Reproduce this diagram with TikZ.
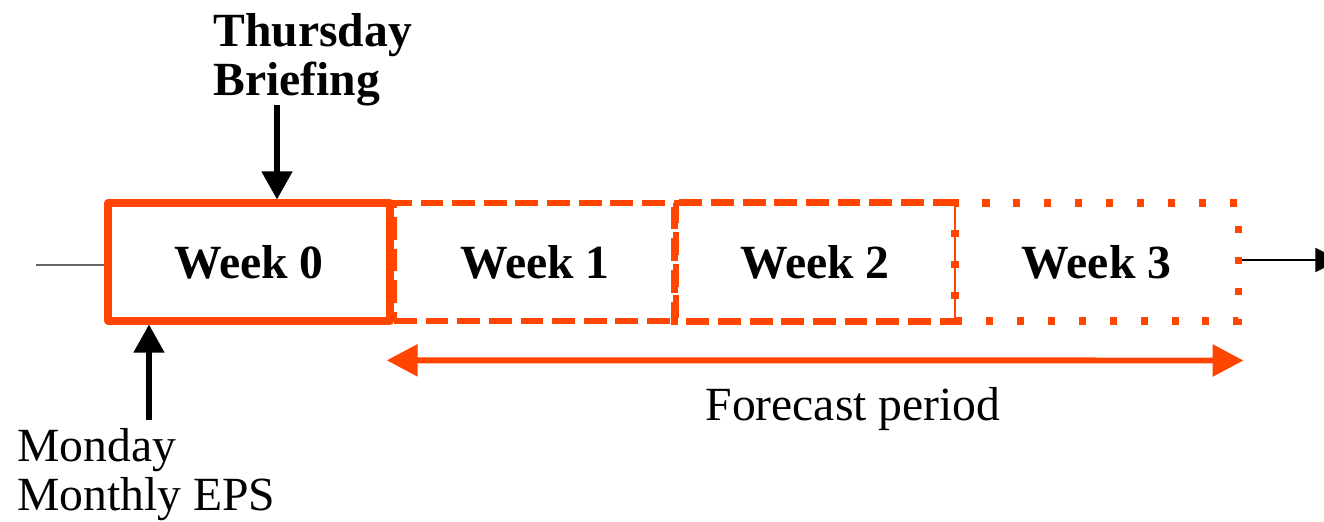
\documentclass[tikz,border=0pt]{standalone}
\usepackage{fontspec}
\setmainfont{Liberation Serif}
\usepackage{xcolor}
\usepackage{tikz}
\usetikzlibrary{calc}
\usetikzlibrary{arrows.meta}
\definecolor{fcorange}{HTML}{FF4500}

\begin{document}
\begin{tikzpicture}
    [
        x=0.2mm, y=-0.2mm,
        every node/.style={font=\fontsize{27.1}{27.9}\selectfont},
        week/.style={minimum height=23.6mm, inner sep=0pt, font=\fontsize{27.1}{27.9}\selectfont\bfseries},
        solidweek/.style={draw=fcorange, line width=4pt, line join=round},
        dashweek/.style={draw=fcorange, line width=3.8pt, dash pattern=on 13pt off 5pt},
        dotweek/.style={draw=fcorange, line width=4pt, dash pattern=on 4pt off 13.6pt},
        pointer/.style={line width=3pt, -{Triangle[length=16pt, width=17pt]}},
        spanarrow/.style={draw=fcorange, line width=3.4pt, {Triangle[length=17.6pt, width=17.6pt]}-{Triangle[length=17.6pt, width=17.6pt]}}
    ]
        %FRAME
        \path[use as bounding box, clip] (0,0) rectangle (1324,522);

        %WEEKS
        \node[week, dashweek, minimum width=56.4mm] (w1) at (535,262) {Week 1};
        \node[week, minimum width=56mm] (w2) at (815,262) {Week 2};
        \node[week, dotweek, minimum width=56.6mm] (w3) at (1096.5,262) {Week 3};
        \node[week, solidweek, minimum width=56.4mm] (w0) at (249,262) {Week 0};
        \draw[dashweek] (w2.north east) -- (w2.north west) -- (w2.south west) -- (w2.south east);
        \draw[fcorange, line width=1.1pt] (w2.north east) -- (w2.south east);

        %TIMELINE
        \coordinate (lead) at (36,265);
        \coordinate (out) at (1340,260);
        \draw[gray!80!black, line width=0.8pt] (lead) -- (lead -| w0.west);
        \draw[line width=1pt, -{Triangle[length=14pt, width=13.7pt]}] (w3.east |- out) -- (out);

        %LABELS
        \node[font=\fontsize{27.1}{27.9}\selectfont\bfseries, align=left, anchor=north west, inner sep=0pt] (thu) at (213,13) {Thursday\\Briefing};
        \node[align=left, anchor=north west, inner sep=0pt] (mon) at (17,428) {Monday\\Monthly EPS};
        \node[anchor=base, inner sep=0pt] (fc) at (853,420) {Forecast period};

        %ARROWS
        \coordinate (thu-tail) at (277,105);
        \coordinate (mon-tail) at (149,420);
        \draw[pointer] (thu-tail) -- (thu-tail |- w0.north);
        \draw[pointer] (mon-tail) -- (mon-tail |- w0.south);
        \draw[spanarrow] ($(w1.south west)+(-4,36)$) -- ($(w3.south east)+(2,36)$);
    \end{tikzpicture}
\end{document}
